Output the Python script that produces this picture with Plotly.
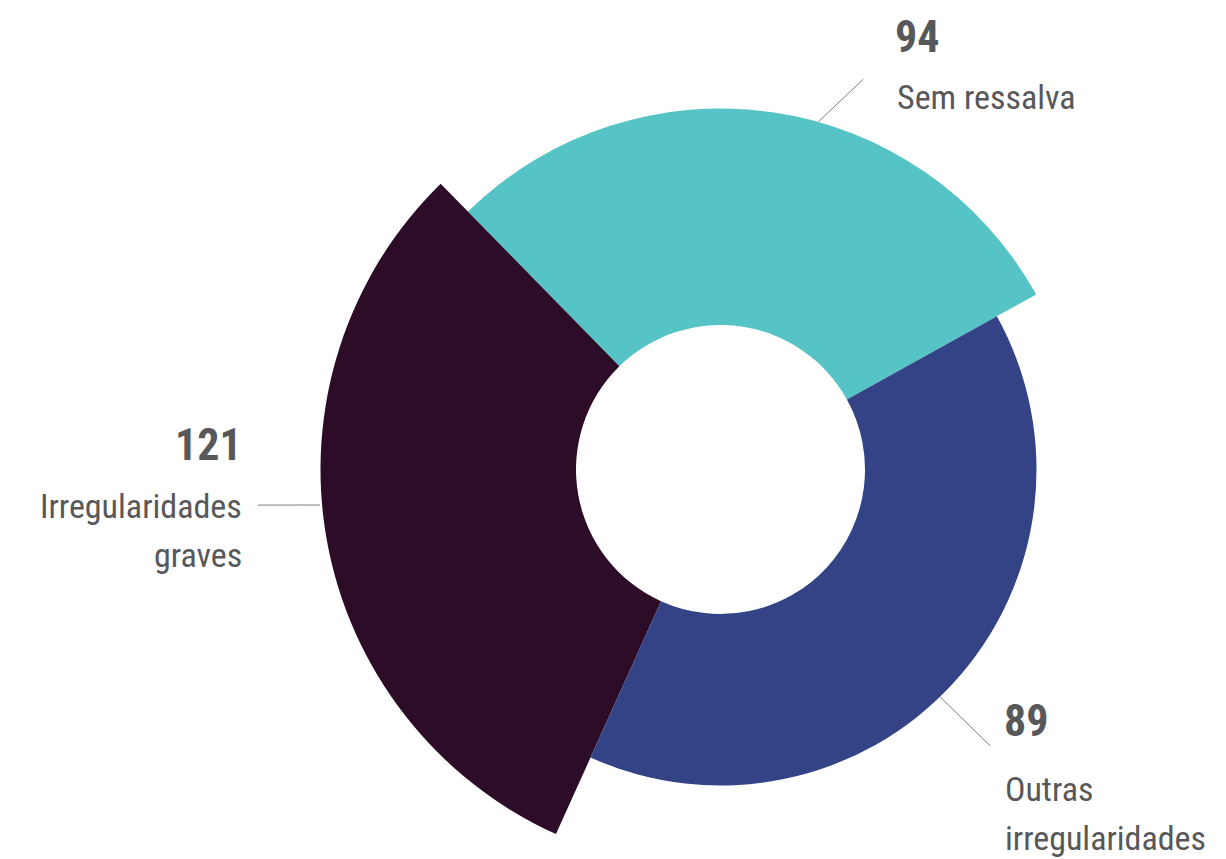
import plotly.graph_objects as go

# ---- data ----
categories = ["Sem ressalva", "Irregularidades graves", "Outras irregularidades"]
values = [94, 121, 89]                 # labelled counts
arc_values = [89, 94, 121]             # angular extent of each slice as drawn
outer_radius = [361, 400, 316]         # outer radius of each slice (chart units)
inner_radius = 144.5
label_lines = [["Sem ressalva"], ["Irregularidades", "graves"], ["Outras", "irregularidades"]]

colors = ["#56C4C6", "#2D0C27", "#334386"]
TEXT = "#58585A"
LINE = "#7d7d7d"
FONT = "Roboto Condensed, Liberation Sans Narrow, DejaVu Sans Condensed, Arial Narrow, sans-serif"

W, H = 1226, 939           # page is taller than the 859 window; the extra strip is hidden
ROT = 29                   # where the first slice starts (degrees, counterclockwise from east)
CX, CY = 720.5, 469.5      # centre of the ring in page pixels
R_RANGE = 469.5

total = sum(arc_values)
widths = [a / total * 360 for a in arc_values]
thetas = []
acc = 0
for w in widths:
    thetas.append(acc + w / 2)
    acc += w

fig = go.Figure()
for i, cat in enumerate(categories):
    fig.add_trace(go.Barpolar(
        r=[outer_radius[i] - inner_radius], base=[inner_radius],
        theta=[thetas[i]], width=[widths[i]],
        marker=dict(color=colors[i], line=dict(width=0)),
        name=cat, hoverinfo="skip", showlegend=False))

# leader lines (radius, screen angle in degrees)
leaders = [
    ([361, 415.7], [74.3, 69.9]),
    ([402, 463.9], [185.07, 184.4]),
    ([316.1, 386.1], [-46.0, -45.7]),
]
for rr, aa in leaders:
    fig.add_trace(go.Scatterpolar(
        r=rr, theta=[a - ROT for a in aa], mode="lines",
        line=dict(color=LINE, width=1), cliponaxis=False,
        hoverinfo="skip", showlegend=False))

def px(x):
    return x / W

def py(y):
    return (H - y) / H

ann = []
def add(text, x, y, anchor, size, bold=False):
    ann.append(dict(text=f"<b>{text}</b>" if bold else text, x=px(x), y=py(y),
                    xref="paper", yref="paper", xanchor=anchor, yanchor="middle",
                    showarrow=False,
                    font=dict(family=FONT, size=size, color=TEXT)))

NUM_SIZE = 44
LAB_SIZE = 34
# Sem ressalva
add(str(values[0]), 893, 37, "left", NUM_SIZE, True)
add(label_lines[0][0], 895, 97, "left", LAB_SIZE)
# Irregularidades graves
add(str(values[1]), 244, 445, "right", NUM_SIZE, True)
add(label_lines[1][0], 244, 506, "right", LAB_SIZE)
add(label_lines[1][1], 244, 555, "right", LAB_SIZE)
# Outras irregularidades
add(str(values[2]), 1002, 721, "left", NUM_SIZE, True)
add(label_lines[2][0], 1003, 789, "left", LAB_SIZE)
add(label_lines[2][1], 1003, 838, "left", LAB_SIZE)

fig.update_layout(
    width=W, height=H,
    margin=dict(l=0, r=0, t=0, b=0, pad=0),
    paper_bgcolor="white", plot_bgcolor="white",
    showlegend=False,
    annotations=ann,
    polar=dict(
        domain=dict(x=[(CX - R_RANGE) / W, (CX + R_RANGE) / W], y=[0, 1]),
        bgcolor="rgba(0,0,0,0)",
        hole=0,
        radialaxis=dict(visible=False, range=[0, R_RANGE], showgrid=False),
        angularaxis=dict(visible=False, rotation=ROT, direction="counterclockwise",
                         showgrid=False, showline=False, ticks=""),
        barmode="overlay",
    ),
)

fig.write_html("out.html", config={"displayModeBar": False},
               post_script="document.body.style.margin='0';document.body.style.overflow='hidden';")
